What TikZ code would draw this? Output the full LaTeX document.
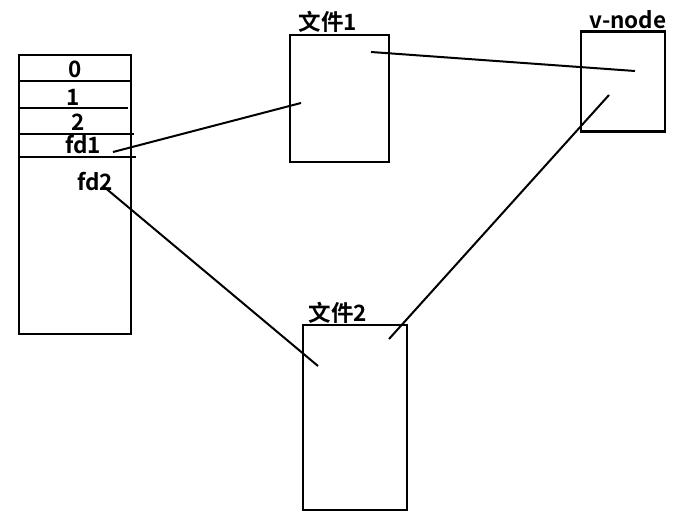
\documentclass[tikz,border=0pt]{standalone}
\usepackage{fontspec}
\setmainfont{Noto Sans CJK SC}[BoldFont={Noto Sans CJK SC Bold}]
\tikzset{
    box/.style={draw, line width=2.6pt, rectangle, inner sep=0pt},
    lbl/.style={font=\fontsize{22.5}{22.5}\selectfont\bfseries, inner sep=0pt},
    link/.style={line width=2pt}
}
\begin{document}
\begin{tikzpicture}[x=1pt, y=-1pt]
    \useasboundingbox (0,0) rectangle (693,521);

    % File descriptor table
    \draw[line width=2.6pt] (19,55) rectangle (131,334);
    \draw[line width=2.6pt] (19,81) -- (131,81);
    \draw[line width=2.6pt] (19,108) -- (128,108);
    \draw[line width=2.6pt] (19,134) -- (134,134);
    \draw[line width=2.6pt] (19,157) -- (136,157);
    \node[lbl] (n0) at (75,69) {0};
    \node[lbl] (n1) at (73,97) {1};
    \node[lbl] (n2) at (78,122) {2};
    \node[lbl] (fdone) at (83,145) {fd1};
    \node[lbl] (fdtwo) at (95,182) {fd2};

    % Files and v-node
    \node[box, minimum width=99pt, minimum height=127pt] (file1) at (339.5,98.5) {};
    \node[lbl] (file1lbl) at (328,22) {文件1};
    \node[box, minimum width=84pt, minimum height=100pt] (vnode) at (623,81.5) {};
    \node[lbl] (vnodelbl) at (628,20) {v-node};
    \node[box, minimum width=104pt, minimum height=185pt] (file2) at (355,417.5) {};
    \node[lbl] (file2lbl) at (338,313) {文件2};

    % Line end points
    \coordinate (fdonep) at (113,152);
    \coordinate (fdtwop) at (103,186);
    \coordinate (fileonein) at (301,103);
    \coordinate (fileoneout) at (371,52);
    \coordinate (vnodeina) at (635,71);
    \coordinate (vnodeinb) at (609,95);
    \coordinate (filetwoin) at (318,366);
    \coordinate (filetwoout) at (389,339);

    % Links
    \draw[link] (fdonep) -- (fileonein);
    \draw[link] (fileoneout) -- (vnodeina);
    \draw[link] (fdtwop) -- (filetwoin);
    \draw[link] (filetwoout) -- (vnodeinb);
\end{tikzpicture}
\end{document}
